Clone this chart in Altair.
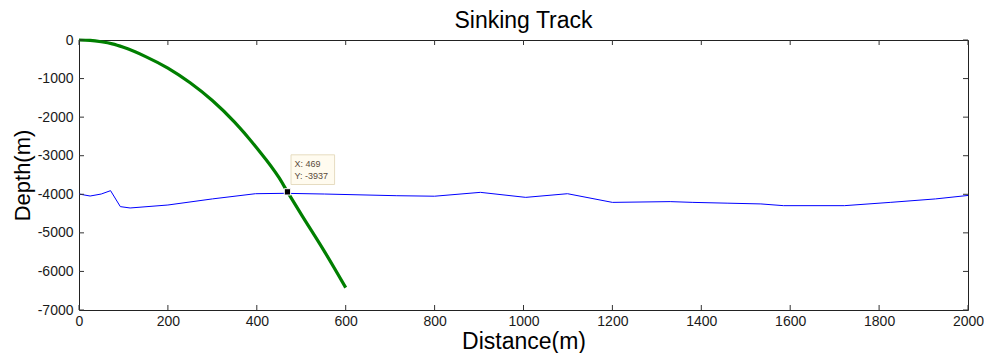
import altair as alt
import pandas as pd

# Sinking track (green)
track_x = [0, 25, 50, 75, 100, 150, 200, 250, 300, 350, 400, 450, 469, 500, 550, 600]
track_y = [0, -10, -45, -100, -190, -430, -730, -1110, -1570, -2130, -2800, -3570, -3937, -4520, -5440, -6420]

# Seabed (blue)
bed_x = [0, 25, 50, 71, 93, 115, 200, 300, 397, 463, 552, 715, 800, 903, 1005, 1099, 1200, 1330, 1381, 1458, 1534, 1585, 1722, 1825, 1927, 2000]
bed_y = [-3993, -4045, -3993, -3906, -4320, -4355, -4278, -4120, -3985, -3975, -3993, -4037, -4050, -3950, -4080, -3985, -4210, -4190, -4210, -4230, -4250, -4295, -4295, -4210, -4120, -4030]

x_ticks = [0, 200, 400, 600, 800, 1000, 1200, 1400, 1600, 1800, 2000]
y_ticks = [0, -1000, -2000, -3000, -4000, -5000, -6000, -7000]

tip_x = 469
tip_y = -3937
tip_label = ["X: 469", "Y: -3937"]

W, H = 889, 270
FONT = "Liberation Sans"

xs = alt.Scale(domain=[0, 2000], nice=False)
ys = alt.Scale(domain=[-7000, 0], nice=False)

track = pd.DataFrame({"x": track_x, "y": track_y})
bed = pd.DataFrame({"x": bed_x, "y": bed_y})
xt = pd.DataFrame({"v": x_ticks})
yt = pd.DataFrame({"v": y_ticks})
tip = pd.DataFrame({"x": [tip_x], "y": [tip_y], "x1": [tip_x + 8], "x2": [tip_x + 106],
                    "y1": [tip_y + 190], "y2": [tip_y + 960], "tx": [tip_x + 16], "ty": [tip_y + 820]})

ax_x = alt.Axis(title="Distance(m)", values=x_ticks, labelExpr="'' + datum.value",
                tickSize=0, domain=False, grid=False, labelPadding=4,
                titlePadding=2, titleFontSize=23, labelOverlap=False, labelFlush=False)
ax_y = alt.Axis(title="Depth(m)", values=y_ticks, labelExpr="'' + datum.value",
                tickSize=0, domain=False, grid=False, labelPadding=6,
                titlePadding=3, titleFontSize=22, labelOverlap=False, labelFlush=False)


def X(f):
    return alt.X(f, type="quantitative", scale=xs, axis=ax_x)


def Y(f):
    return alt.Y(f, type="quantitative", scale=ys, axis=ax_y)


bed_line = alt.Chart(bed).mark_line(color="#0000ff", strokeWidth=1).encode(x=X("x"), y=Y("y"))
track_line = alt.Chart(track).mark_line(color="#007f00", strokeWidth=3.2, interpolate="monotone").encode(
    x=X("x"), y=Y("y"))

xb = alt.Chart(xt).mark_rule(color="#333333").encode(x=X("v"), y=alt.value(H), y2=alt.value(H - 5))
xtop = alt.Chart(xt).mark_rule(color="#333333").encode(x=X("v"), y=alt.value(0), y2=alt.value(5))
yl = alt.Chart(yt).mark_rule(color="#333333").encode(y=Y("v"), x=alt.value(0), x2=alt.value(5))
yr = alt.Chart(yt).mark_rule(color="#333333").encode(y=Y("v"), x=alt.value(W), x2=alt.value(W - 5))

box = alt.Chart(tip).mark_rect(fill="#fffbef", stroke="#e6dcc0", strokeWidth=1).encode(
    x=X("x1"), x2="x2:Q", y=Y("y1"), y2="y2:Q")
txt = alt.Chart(tip).mark_text(text=tip_label, align="left", baseline="top", font=FONT, fontSize=9,
                               color="#5a4a3a", lineHeight=12).encode(x=X("tx"), y=Y("ty"))
pt = alt.Chart(tip).mark_square(color="black", size=40, opacity=1, stroke="white", strokeWidth=1).encode(
    x=X("x"), y=Y("y"))

chart = alt.layer(bed_line, track_line, xb, xtop, yl, yr, box, txt, pt).properties(
    width=W, height=H,
    background="white",
    padding={"left": 3, "top": 2, "right": 0, "bottom": 0},
    title=alt.TitleParams("Sinking Track", font=FONT, fontSize=23, fontWeight="normal", color="black", offset=0),
).configure_view(stroke="#222222", strokeWidth=1).configure_axis(
    labelFont=FONT, labelFontSize=14, labelColor="#1a1a1a",
    titleFont=FONT, titleFontWeight="normal", titleColor="black",
)

chart.save("out.html", embed_options={"renderer": "svg", "actions": False})
